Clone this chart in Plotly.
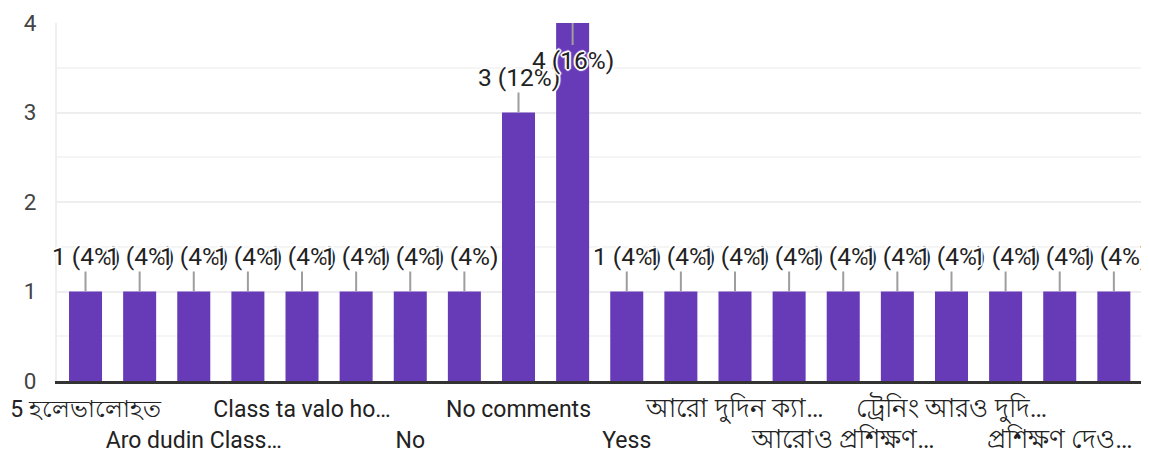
import re
import plotly.graph_objects as go

# Data
values = [1, 1, 1, 1, 1, 1, 1, 1, 3, 4, 1, 1, 1, 1, 1, 1, 1, 1, 1, 1]
total = sum(values)
shown_tick_positions = [0, 2, 4, 6, 8, 10, 12, 14, 16, 18]
shown_tick_labels = [
    "5 হলেভালোহত",
    "Aro dudin Class…",
    "Class ta valo ho…",
    "No",
    "No comments",
    "Yess",
    "আরো দুদিন ক্যা…",
    "আরোও প্রশিক্ষণ…",
    "ট্রেনিং আরও দুদি…",
    "প্রশিক্ষণ দেও…",
]
y_ticks = [0, 1, 2, 3, 4]

x = list(range(len(values)))
PURPLE = "#673ab7"
FONT = "Roboto, Arial, sans-serif"

# the page body has an 8px default margin, so the figure is sized to fit
W, H = 1141, 447


def bengali_bigger(s, px=26):
    # the fallback Bengali font renders narrower than the original; enlarge it
    return re.sub(r"([\u0980-\u09FF][\u0980-\u09FF\s…]*)",
                  r"<span style='font-size:%dpx'>\1</span>" % px, s)


fig = go.Figure()
fig.add_trace(go.Bar(
    x=x, y=values, marker=dict(color=PURPLE, line=dict(width=0)),
    width=0.61, hoverinfo="skip", showlegend=False,
))
# invisible trace to activate the second (staggered) tick row axis
fig.add_trace(go.Scatter(x=[0], y=[0], xaxis="x2", yaxis="y", mode="markers",
                         marker=dict(opacity=0), showlegend=False,
                         hoverinfo="skip"))

halo = ("white 1px 1px 0px, white -1px -1px 0px, white 1px -1px 0px, "
        "white -1px 1px 0px, white 0px 2px 1px, white 0px -2px 1px, "
        "white 2px 0px 1px, white -2px 0px 1px")

ymax = max(y_ticks)
for xi, v in zip(x, values):
    pct = round(100 * v / total)
    ay = 37 if v >= ymax else -35
    fig.add_annotation(
        x=xi, y=v, xref="x", yref="y",
        text=f"{v} ({pct}%)",
        showarrow=True, arrowhead=0, arrowwidth=2, arrowcolor="#9e9e9e",
        ax=0, ay=ay, standoff=0, borderpad=0,
        font=dict(family=FONT, size=24.5, color="#222222", shadow=halo),
    )

row1_pos = shown_tick_positions[0::2]
row1_txt = [bengali_bigger(t, 24 if i == 0 else 26)
            for i, t in enumerate(shown_tick_labels[0::2])]
row2_pos = shown_tick_positions[1::2]
row2_txt = [bengali_bigger(t) for t in shown_tick_labels[1::2]]

xr = [-0.527, 19.52]
fig.update_layout(
    width=W, height=H,
    margin=dict(l=49, r=7, t=15, b=74, autoexpand=False),
    paper_bgcolor="white", plot_bgcolor="white",
    bargap=0.39,
    xaxis=dict(
        range=xr, tickmode="array", tickvals=row1_pos, ticktext=row1_txt,
        showgrid=False, zeroline=False, showline=True, linecolor="#333333",
        linewidth=3, ticks="", tickangle=0, ticklabelstandoff=5,
        automargin=False, ticklabeloverflow="allow",
        tickfont=dict(family=FONT, size=23, color="#222222"),
    ),
    xaxis2=dict(
        range=xr, overlaying="x", matches="x", side="bottom", anchor="y",
        tickmode="array", tickvals=row2_pos, ticktext=row2_txt,
        showgrid=False, zeroline=False, showline=False, ticks="",
        tickangle=0, ticklabelstandoff=43, automargin=False,
        ticklabeloverflow="allow",
        tickfont=dict(family=FONT, size=23, color="#222222"),
    ),
    yaxis=dict(
        range=[0, 4], tickmode="array", tickvals=y_ticks,
        showgrid=True, gridcolor="#eeeeee", gridwidth=2,
        minor=dict(dtick=0.5, showgrid=True, gridcolor="#f5f5f5", gridwidth=2),
        zeroline=False, showline=True, mirror=True, linecolor="#eeeeee",
        linewidth=2, ticks="", ticklabelstandoff=14, automargin=False,
        tickfont=dict(family=FONT, size=22.5, color="#444444"),
    ),
)

fig.write_html("out.html")
